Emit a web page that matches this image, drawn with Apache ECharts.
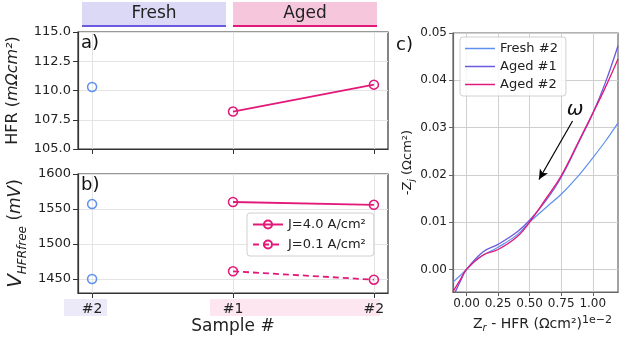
<!DOCTYPE html>
<html>
<head>
<meta charset="utf-8">
<script src="https://cdn.jsdelivr.net/npm/echarts@6/dist/echarts.min.js"></script>
<style>
  html, body { margin: 0; padding: 0; background: #fff; }
  #chart { width: 620px; height: 338px; }
</style>
</head>
<body>
<div id="chart"></div>
<script>
// sample labels on the a/b x axis (positions 0, 1, 2)
const samples = ['#2', '#1', '#2'];

// a) HFR (mOhm cm2)
const hfrFresh = [[0, 110.3]];
const hfrAged = [[1, 108.2], [2, 110.5]];

// b) V HFR-free (mV)
const vFresh = [[0, 1557], [0, 1450]];
const vAgedHigh = [[1, 1560], [2, 1556]];   // J=4.0 A/cm2
const vAgedLow = [[1, 1461], [2, 1449]];    // J=0.1 A/cm2

// c) Nyquist, x in 1e-2 Ohm cm2, y in Ohm cm2
const nyqFresh2 = [[-0.107, -0.0027], [-0.05, -0.0013], [0, 0], [0.1, 0.0025], [0.25, 0.0047], [0.4, 0.0073],
    [0.5, 0.0100], [0.63, 0.0131], [0.75, 0.0159], [0.87, 0.0193], [1.0, 0.0236], [1.1, 0.0271], [1.2, 0.031]];
const nyqAged1 = [[-0.09, -0.0048], [-0.05, -0.0026], [0, 0], [0.13, 0.0037], [0.25, 0.0053], [0.4, 0.0079],
    [0.5, 0.0104], [0.63, 0.0146], [0.75, 0.0195], [0.9, 0.0275], [1.0, 0.0330], [1.1, 0.0395], [1.2, 0.0473]];
const nyqAged2 = [[-0.107, -0.0047], [-0.05, -0.0022], [0, 0], [0.13, 0.0030], [0.25, 0.0042], [0.4, 0.0069],
    [0.5, 0.0100], [0.63, 0.0150], [0.75, 0.0198], [0.9, 0.0277], [1.0, 0.0330], [1.1, 0.0385], [1.2, 0.0445]];

// omega arrow (data coords of panel c)
const arrowFrom = [0.84, 0.0314];
const arrowTo = [0.574, 0.019];
const omegaAt = [0.86, 0.0337];

const blue = '#5f90f0';
const purple = '#6a5ae0';
const pink = '#e3197a';
const font = 'DejaVu Sans';

const lightGrid = { show: true, lineStyle: { color: '#e4e4e4', width: 1 } };
const darkGrid = { show: true, lineStyle: { color: '#cfcfcf', width: 1 } };

function abX(gridIndex, showLabels) {
    return {
        type: 'value', gridIndex: gridIndex, min: -0.1, max: 2.1,
        axisLine: { show: true, onZero: false, lineStyle: { color: '#333', width: 1.2 } },
        axisTick: { show: true, customValues: [0, 1, 2], length: 5, lineStyle: { color: '#333' } },
        axisLabel: {
            show: showLabels, customValues: [0, 1, 2], margin: 9,
            fontFamily: font, fontSize: 14, color: '#222',
            formatter: function (v) { return samples[Math.round(v)]; }
        },
        splitLine: lightGrid
    };
}

const option = {
    animation: false,
    backgroundColor: '#fff',
    grid: [
        { left: 78, top: 32, width: 310, height: 117, show: true, borderColor: '#333', borderWidth: 1.2 },
        { left: 78, top: 174, width: 310, height: 119, show: true, borderColor: '#333', borderWidth: 1.2 },
        { left: 453, top: 33, width: 165, height: 265, show: true, borderColor: '#666', borderWidth: 1.2 }
    ],
    xAxis: [
        abX(0, false),
        Object.assign(abX(1, true), {
            name: 'Sample #', nameLocation: 'middle', nameGap: 25,
            nameTextStyle: { fontFamily: font, fontSize: 17, color: '#222' }
        }),
        {
            type: 'value', gridIndex: 2, min: -0.107, max: 1.2,
            axisLine: { show: true, onZero: false, lineStyle: { color: '#666', width: 1.2 } },
            axisTick: { show: true, customValues: [0, 0.25, 0.5, 0.75, 1.0], length: 4, lineStyle: { color: '#666' } },
            axisLabel: {
                customValues: [0, 0.25, 0.5, 0.75, 1.0], margin: 6, fontFamily: font, fontSize: 12, color: '#222',
                formatter: function (v) { return v.toFixed(2); }
            },
            splitLine: darkGrid,
            name: '{n|Z}{sub|r}{n| - HFR (Ωcm²)}{sup|1e−2}', nameLocation: 'middle', nameGap: 19,
            nameTextStyle: {
                fontFamily: font, fontSize: 14, color: '#222', padding: [0, 0, 0, 14],
                rich: {
                    n: { fontFamily: font, fontSize: 14, color: '#222', lineHeight: 18, verticalAlign: 'middle' },
                    sub: { fontFamily: font, fontSize: 10, fontStyle: 'italic', color: '#222', lineHeight: 18, verticalAlign: 'bottom' },
                    sup: { fontFamily: font, fontSize: 11, color: '#222', lineHeight: 18, verticalAlign: 'top' }
                }
            }
        }
    ],
    yAxis: [
        {
            type: 'value', gridIndex: 0, min: 105, max: 115, interval: 2.5,
            axisLine: { show: true, onZero: false, lineStyle: { color: '#333', width: 1.2 } },
            axisTick: { show: true, length: 5, lineStyle: { color: '#333' } },
            axisLabel: { fontFamily: font, fontSize: 13, color: '#222', margin: 7, formatter: function (v) { return v.toFixed(1); } },
            splitLine: lightGrid,
            name: '{n|HFR (}{i|mΩcm²}{n|)}', nameLocation: 'middle', nameGap: 57,
            nameTextStyle: {
                rich: {
                    n: { fontFamily: font, fontSize: 16, color: '#222' },
                    i: { fontFamily: font, fontSize: 16, fontStyle: 'italic', color: '#222' }
                }
            }
        },
        {
            type: 'value', gridIndex: 1, min: 1430, max: 1600,
            axisLine: { show: true, onZero: false, lineStyle: { color: '#333', width: 1.2 } },
            axisTick: { show: true, length: 5, customValues: [1450, 1500, 1550, 1600], lineStyle: { color: '#333' } },
            axisLabel: {
                fontFamily: font, fontSize: 13, color: '#222', margin: 7, customValues: [1450, 1500, 1550, 1600],
                formatter: function (v) { return String(v); }
            },
            splitLine: lightGrid,
            name: '{v|V}{sub|HFRfree}{n| (}{i|mV}{n|)}', nameLocation: 'middle', nameGap: 49,
            nameTextStyle: {
                rich: {
                    v: { fontFamily: font, fontSize: 20, fontStyle: 'italic', color: '#222', lineHeight: 26, verticalAlign: 'middle' },
                    sub: { fontFamily: font, fontSize: 12, fontStyle: 'italic', color: '#222', lineHeight: 26, verticalAlign: 'bottom' },
                    n: { fontFamily: font, fontSize: 17, color: '#222', lineHeight: 26, verticalAlign: 'middle' },
                    i: { fontFamily: font, fontSize: 17, fontStyle: 'italic', color: '#222', lineHeight: 26, verticalAlign: 'middle' }
                }
            }
        },
        {
            type: 'value', gridIndex: 2, min: -0.0048, max: 0.05,
            axisLine: { show: true, onZero: false, lineStyle: { color: '#666', width: 1.2 } },
            axisTick: { show: true, length: 4, customValues: [0, 0.01, 0.02, 0.03, 0.04, 0.05], lineStyle: { color: '#666' } },
            axisLabel: {
                customValues: [0, 0.01, 0.02, 0.03, 0.04, 0.05], fontFamily: font, fontSize: 12, color: '#222', margin: 6,
                formatter: function (v) { return v.toFixed(2); }
            },
            splitLine: darkGrid,
            name: '{n|-Z}{sub|j}{n| (Ωcm²)}', nameLocation: 'middle', nameGap: 34,
            nameTextStyle: {
                rich: {
                    n: { fontFamily: font, fontSize: 13, color: '#222', lineHeight: 18, verticalAlign: 'middle' },
                    sub: { fontFamily: font, fontSize: 9, fontStyle: 'italic', color: '#222', lineHeight: 18, verticalAlign: 'bottom' }
                }
            }
        }
    ],
    legend: [
        {
            data: ['J=4.0 A/cm²', 'J=0.1 A/cm²'],
            orient: 'vertical', left: 247, top: 213, itemWidth: 30, itemHeight: 10, itemGap: 7,
            padding: [5, 8, 5, 5], backgroundColor: 'rgba(255,255,255,0.85)', borderColor: '#d0d0d0', borderWidth: 1, borderRadius: 3,
            textStyle: { fontFamily: font, fontSize: 13, color: '#222' }
        },
        {
            data: ['Fresh #2', 'Aged #1', 'Aged #2'],
            icon: 'rect',
            orient: 'vertical', left: 460, top: 37, itemWidth: 30, itemHeight: 1.5, itemGap: 3,
            padding: [4, 8, 4, 5], backgroundColor: 'rgba(255,255,255,0.85)', borderColor: '#d0d0d0', borderWidth: 1, borderRadius: 3,
            textStyle: { fontFamily: font, fontSize: 13, color: '#222', lineHeight: 15 }
        }
    ],
    series: [
        // a)
        {
            name: 'HFR fresh', type: 'line', xAxisIndex: 0, yAxisIndex: 0, data: hfrFresh,
            symbol: 'circle', symbolSize: 9, lineStyle: { width: 0 },
            itemStyle: { color: 'rgba(0,0,0,0)', borderColor: blue, borderWidth: 1.5 }
        },
        {
            name: 'HFR aged', type: 'line', xAxisIndex: 0, yAxisIndex: 0, data: hfrAged,
            symbol: 'circle', symbolSize: 9, lineStyle: { color: pink, width: 1.8 },
            itemStyle: { color: 'rgba(0,0,0,0)', borderColor: pink, borderWidth: 1.5 }
        },
        // b)
        {
            name: 'V fresh', type: 'line', xAxisIndex: 1, yAxisIndex: 1, data: vFresh,
            symbol: 'circle', symbolSize: 9, lineStyle: { width: 0 },
            itemStyle: { color: 'rgba(0,0,0,0)', borderColor: blue, borderWidth: 1.5 }
        },
        {
            name: 'J=4.0 A/cm²', type: 'line', xAxisIndex: 1, yAxisIndex: 1, data: vAgedHigh,
            symbol: 'circle', symbolSize: 9, lineStyle: { color: pink, width: 1.8 },
            itemStyle: { color: 'rgba(0,0,0,0)', borderColor: pink, borderWidth: 1.5 }
        },
        {
            name: 'J=0.1 A/cm²', type: 'line', xAxisIndex: 1, yAxisIndex: 1, data: vAgedLow,
            symbol: 'circle', symbolSize: 9, lineStyle: { color: pink, width: 1.8, type: [6, 4] },
            itemStyle: { color: 'rgba(0,0,0,0)', borderColor: pink, borderWidth: 1.5 }
        },
        // c)
        {
            name: 'Fresh #2', type: 'line', xAxisIndex: 2, yAxisIndex: 2, data: nyqFresh2,
            smooth: 0.4, symbol: 'none', lineStyle: { color: blue, width: 1.2 }, itemStyle: { color: blue }
        },
        {
            name: 'Aged #1', type: 'line', xAxisIndex: 2, yAxisIndex: 2, data: nyqAged1,
            smooth: 0.4, symbol: 'none', lineStyle: { color: purple, width: 1.3 }, itemStyle: { color: purple }
        },
        {
            name: 'Aged #2', type: 'line', xAxisIndex: 2, yAxisIndex: 2, data: nyqAged2,
            smooth: 0.4, symbol: 'none', lineStyle: { color: pink, width: 1.3 }, itemStyle: { color: pink },
            markLine: {
                silent: true, animation: false,
                lineStyle: { color: '#000', width: 1.2, type: 'solid' },
                label: { show: false },
                data: [[
                    { coord: arrowFrom, symbol: 'none' },
                    { coord: arrowTo, symbol: 'arrow', symbolSize: [7, 10] }
                ]]
            },
            markPoint: {
                silent: true, symbol: 'circle', symbolSize: 2,
                itemStyle: { color: 'rgba(0,0,0,0)' },
                label: { show: true, position: 'inside', formatter: 'ω', fontFamily: font, fontSize: 20, fontStyle: 'italic', color: '#111' },
                data: [{ coord: omegaAt }]
            }
        }
    ],
    graphic: [
        // header boxes
        { type: 'rect', left: 82, top: 2, shape: { width: 144, height: 24 }, style: { fill: '#dcd9f6' }, z: 0 },
        { type: 'rect', left: 82, top: 25, shape: { width: 144, height: 2 }, style: { fill: purple }, z: 1 },
        { type: 'text', style: { text: 'Fresh', fontFamily: font, fontSize: 17, fill: '#222', x: 154, y: 14, align: 'center', verticalAlign: 'middle' }, z: 2 },
        { type: 'rect', left: 233, top: 2, shape: { width: 144, height: 24 }, style: { fill: '#f6c7dc' }, z: 0 },
        { type: 'rect', left: 233, top: 25, shape: { width: 144, height: 2 }, style: { fill: pink }, z: 1 },
        { type: 'text', style: { text: 'Aged', fontFamily: font, fontSize: 17, fill: '#222', x: 305, y: 14, align: 'center', verticalAlign: 'middle' }, z: 2 },
        // tick label backgrounds
        { type: 'rect', left: 64, top: 299, shape: { width: 43, height: 17 }, style: { fill: '#eceaf8' }, z: -1 },
        { type: 'rect', left: 210, top: 299, shape: { width: 170, height: 17 }, style: { fill: '#fde6ef' }, z: -1 },
        // panel labels
        { type: 'text', style: { text: 'a)', x: 81, y: 34, fontFamily: font, fontSize: 18, fill: '#111' }, z: 5 },
        { type: 'text', style: { text: 'b)', x: 81, y: 176, fontFamily: font, fontSize: 18, fill: '#111' }, z: 5 },
        { type: 'text', style: { text: 'c)', x: 396, y: 36, fontFamily: font, fontSize: 18, fill: '#111' }, z: 5 }
    ]
};

const myChart = echarts.init(document.getElementById('chart'), null, { renderer: 'canvas' });
myChart.setOption(option);
window.addEventListener('resize', myChart.resize);
</script>
</body>
</html>
